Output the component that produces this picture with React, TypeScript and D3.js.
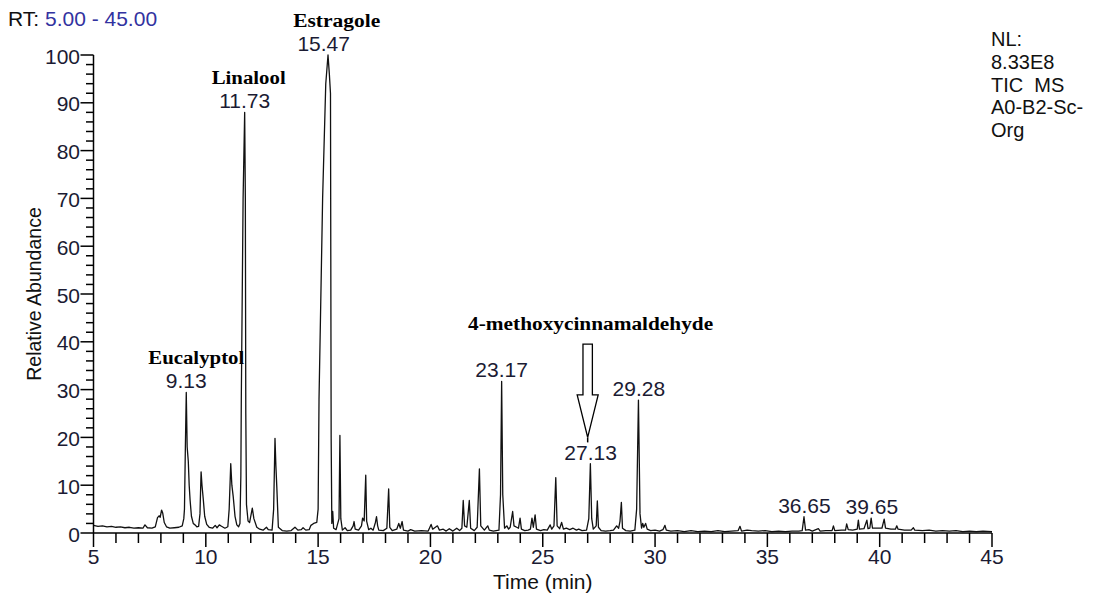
import * as d3 from "d3";

// TIC trace: [retention time (min), relative abundance (%)]
const tic: [number, number][] = [
  [5.0, 1.6], [5.2, 1.4], [5.4, 1.5], [5.6, 1.3], [5.8, 1.4], [6.0, 1.2], [6.2, 1.3], [6.4, 1.1],
  [6.6, 1.2], [6.8, 1.0], [7.0, 1.1], [7.2, 1.0], [7.29, 1.7], [7.4, 1.1], [7.6, 1.0], [7.75, 1.3],
  [7.85, 3.2], [7.92, 3.6], [7.97, 3.3], [8.03, 4.8], [8.08, 4.2], [8.15, 2.2], [8.25, 1.3], [8.4, 1.0],
  [8.6, 1.1], [8.8, 1.2], [8.95, 1.5], [9.02, 3], [9.05, 5], [9.09, 18], [9.13, 29.4], [9.17, 18],
  [9.22, 15], [9.26, 10], [9.3, 6.9], [9.36, 3.5], [9.44, 2], [9.52, 1.7], [9.6, 1.3], [9.68, 1.4],
  [9.74, 4], [9.79, 12.8], [9.83, 10], [9.89, 6.9], [9.95, 3.5], [10.04, 1.8], [10.15, 1.2], [10.3, 1.0],
  [10.42, 1.6], [10.5, 1.1], [10.6, 1.7], [10.7, 1.4], [10.85, 1.0], [10.98, 1.3], [11.04, 5], [11.11, 14.5],
  [11.16, 10], [11.22, 7.6], [11.3, 3.5], [11.38, 1.7], [11.46, 1.3], [11.52, 2], [11.56, 12], [11.58, 28],
  [11.66, 70], [11.73, 88], [11.76, 70], [11.78, 25], [11.81, 6], [11.88, 2.5], [11.95, 2.2], [12.07, 5.2],
  [12.14, 3], [12.27, 1.2], [12.4, 0.8], [12.55, 0.6], [12.7, 1.2], [12.78, 0.7], [12.95, 0.6], [13.02, 5],
  [13.08, 19.8], [13.12, 14], [13.16, 9.7], [13.23, 1.2], [13.4, 0.5], [13.6, 0.4], [13.8, 0.5], [13.97, 1.2],
  [14.1, 0.6], [14.25, 0.7], [14.33, 1.1], [14.45, 0.6], [14.6, 0.7], [14.68, 1.6], [14.8, 2.0], [14.94, 2.2],
  [15.0, 5], [15.04, 28], [15.2, 70], [15.34, 94], [15.44, 100], [15.5, 96], [15.55, 92], [15.58, 20],
  [15.61, 2], [15.65, 4.5], [15.69, 1.0], [15.8, 0.7], [15.93, 3], [15.97, 20.4], [16.01, 3], [16.08, 0.6],
  [16.2, 1.1], [16.3, 0.5], [16.45, 0.6], [16.56, 1.5], [16.6, 2.4], [16.65, 0.8], [16.8, 0.6], [16.93, 1.5],
  [16.98, 3.1], [17.05, 2.5], [17.12, 12.1], [17.16, 2.5], [17.25, 0.7], [17.35, 1.0], [17.45, 0.6], [17.55, 2.2],
  [17.6, 3.4], [17.65, 1.5], [17.7, 0.6], [17.9, 0.5], [18.06, 1.0], [18.14, 9.2], [18.19, 1.2], [18.3, 0.5],
  [18.5, 0.8], [18.59, 2.0], [18.66, 1.0], [18.74, 2.4], [18.8, 0.6], [19.0, 0.4], [19.12, 0.7], [19.3, 0.4],
  [19.6, 0.5], [19.9, 0.4], [20.03, 1.8], [20.1, 0.8], [20.31, 1.5], [20.4, 0.6], [20.57, 0.8], [20.7, 0.4],
  [20.84, 0.9], [21.0, 0.4], [21.17, 1.0], [21.3, 0.5], [21.4, 1.0], [21.46, 6.8], [21.52, 1.5], [21.62, 1.2],
  [21.73, 6.8], [21.79, 1.0], [21.95, 0.5], [22.08, 1.2], [22.18, 13.4], [22.24, 1.5], [22.4, 0.6], [22.55, 1.5],
  [22.62, 0.6], [22.8, 0.4], [23.05, 0.6], [23.12, 8], [23.17, 31.7], [23.22, 8], [23.3, 1.0], [23.4, 1.5],
  [23.48, 0.8], [23.55, 1.2], [23.66, 4.5], [23.72, 1.5], [23.84, 1.2], [23.92, 1.0], [23.99, 3.1], [24.05, 0.8],
  [24.2, 0.5], [24.35, 0.6], [24.45, 0.8], [24.52, 3.1], [24.58, 1.2], [24.66, 3.8], [24.72, 0.8], [24.9, 0.5],
  [25.05, 0.7], [25.2, 0.6], [25.33, 1.7], [25.4, 0.8], [25.5, 1.5], [25.58, 11.6], [25.64, 1.5], [25.75, 0.9],
  [25.84, 2.2], [25.92, 0.8], [26.05, 1.0], [26.2, 0.7], [26.35, 1.0], [26.5, 0.6], [26.6, 0.8], [26.75, 0.5],
  [26.95, 0.6], [27.05, 3], [27.12, 14.5], [27.18, 3], [27.25, 0.8], [27.38, 1.5], [27.43, 6.7], [27.48, 1.2],
  [27.6, 0.5], [27.8, 0.4], [28.0, 0.5], [28.15, 0.6], [28.29, 1.5], [28.38, 1.0], [28.44, 2.5], [28.5, 6.4],
  [28.55, 1.0], [28.7, 0.5], [28.9, 0.4], [29.1, 0.6], [29.18, 5], [29.26, 27.8], [29.33, 4], [29.4, 1.0],
  [29.45, 2.0], [29.5, 1.2], [29.58, 2.0], [29.65, 0.8], [29.8, 0.5], [30.0, 0.6], [30.2, 0.4], [30.35, 0.7],
  [30.44, 1.6], [30.5, 0.6], [30.7, 0.4], [31.0, 0.5], [31.3, 0.3], [31.6, 0.5], [31.9, 0.3], [32.2, 0.4],
  [32.5, 0.3], [32.8, 0.5], [33.1, 0.3], [33.4, 0.4], [33.7, 0.5], [33.78, 1.4], [33.85, 0.4], [34.1, 0.6],
  [34.3, 0.5], [34.6, 0.4], [34.9, 0.5], [35.2, 0.3], [35.5, 0.4], [35.8, 0.3], [36.1, 0.4], [36.4, 0.4],
  [36.55, 0.5], [36.63, 3.4], [36.7, 0.6], [36.85, 0.7], [37.0, 0.4], [37.27, 0.9], [37.35, 0.4], [37.6, 0.5],
  [37.88, 0.5], [37.94, 1.5], [38.0, 0.5], [38.3, 0.6], [38.48, 0.6], [38.53, 1.9], [38.6, 0.7], [38.8, 0.6],
  [39.0, 0.8], [39.05, 2.7], [39.1, 0.8], [39.3, 0.9], [39.43, 2.7], [39.48, 0.9], [39.56, 1.0], [39.62, 3.1],
  [39.68, 1.0], [39.9, 1.0], [40.1, 1.0], [40.2, 2.9], [40.26, 1.0], [40.5, 0.8], [40.7, 0.8], [40.76, 1.5],
  [40.82, 0.8], [41.1, 0.6], [41.4, 0.6], [41.5, 1.1], [41.56, 0.6], [41.9, 0.5], [42.2, 0.6], [42.5, 0.4],
  [42.8, 0.5], [43.1, 0.4], [43.4, 0.5], [43.7, 0.3], [44.0, 0.4], [44.3, 0.3], [44.6, 0.4], [45.0, 0.3],
];

// labelled peaks: retention time and apex height
const peakRT = [9.13, 11.73, 15.47, 23.17, 27.13, 29.28, 36.65, 39.65];
const peakApex = [29.4, 88, 100, 31.7, 14.5, 27.8, 3.4, 3.1];

const compoundNames = ["Eucalyptol", "Linalool", "Estragole", "4-methoxycinnamaldehyde"];
const compoundRT = [9.13, 11.73, 15.47, 27.13];

const infoLines = ["NL:", "8.33E8", "TIC  MS", "A0-B2-Sc-", "Org"];
const rtRange = [5, 45];
const yTicks = [0, 10, 20, 30, 40, 50, 60, 70, 80, 90, 100];
const xTicks = [5, 10, 15, 20, 25, 30, 35, 40, 45];

// arrow for 4-methoxycinnamaldehyde (time, tip / head / top abundance)
const arrowRT = 27.0;
const arrowLevels = [20, 28.9, 39.5];

const W = 1093;
const H = 594;
const SANS = "'Liberation Sans', Arial, sans-serif";
const SERIF = "'Liberation Serif', 'Times New Roman', serif";
const NUM = "#1b1b33";

// layout nudges for the text (pixels)
const labelNudge: Record<string, number> = { "15.47": -5 };
const nameNudge: Record<string, number> = { Eucalyptol: 10, Linalool: 4, Estragole: 8 };
const nameWidth: Record<string, number> = { Eucalyptol: 96, Linalool: 74, Estragole: 87, "4-methoxycinnamaldehyde": 245 };

export default function App() {
  const x = d3.scaleLinear().domain(rtRange).range([93.5, 992]);
  const y = d3.scaleLinear().domain([0, 100]).range([533, 55]);

  const line = d3.line<[number, number]>()
    .x(d => x(d[0]))
    .y(d => y(d[1]));

  const xMinor = d3.range(rtRange[0], rtRange[1] + 1, 1).filter(t => t % 5 !== 0);
  const yMinor = d3.range(0, 101, 2).filter(v => v % 10 !== 0);

  const ax = x(arrowRT);
  const [tipV, headV, topV] = arrowLevels;
  const arrowPath = [
    [ax - 4.7, y(topV)], [ax + 4.7, y(topV)], [ax + 4.7, y(headV)], [ax + 10.5, y(headV)],
    [ax, y(tipV)], [ax - 10.5, y(headV)], [ax - 4.7, y(headV)],
  ].map(p => p.join(",")).join(" ");

  return (
    <svg width={W} height={H} style={{ position: "absolute", left: 0, top: 0, background: "#fff" }}>
      <rect width={W} height={H} fill="#fff" />

      {/* header */}
      <text x={8} y={26} fontFamily={SANS} fontSize={21} fill="#111">
        RT: <tspan fill="#3232a0">{`${rtRange[0].toFixed(2)} - ${rtRange[1].toFixed(2)}`}</tspan>
      </text>
      <g fontFamily={SANS} fontSize={20} fill="#111">
        {infoLines.map((s, i) => (
          <text key={s} x={991} y={46 + i * 22.8} style={{ whiteSpace: "pre" }}>{s}</text>
        ))}
      </g>

      {/* trace */}
      <path d={line(tic) ?? ""} fill="none" stroke="#111" strokeWidth={1.3} strokeLinejoin="round" />

      {/* y axis */}
      <g stroke="#000" strokeWidth={1.5}>
        <line x1={x(rtRange[0])} x2={x(rtRange[0])} y1={y(0)} y2={y(100)} />
        {yTicks.map(v => <line key={v} x1={80.5} x2={x(rtRange[0])} y1={y(v)} y2={y(v)} />)}
        {yMinor.map(v => <line key={v} x1={86} x2={x(rtRange[0])} y1={y(v)} y2={y(v)} />)}
      </g>
      <g fontFamily={SANS} fontSize={21} fill={NUM} textAnchor="end">
        {yTicks.map(v => <text key={v} x={80} y={y(v) + 8.5}>{v}</text>)}
      </g>
      <text transform={`translate(41,${(y(0) + y(100)) / 2}) rotate(-90)`} textAnchor="middle"
        fontFamily={SANS} fontSize={19.5} fill="#111">Relative Abundance</text>

      {/* x axis */}
      <g stroke="#000" strokeWidth={1.5}>
        <line x1={x(rtRange[0])} x2={x(rtRange[1])} y1={y(0)} y2={y(0)} />
        {xTicks.map(t => <line key={t} x1={x(t)} x2={x(t)} y1={y(0)} y2={y(0) + 14} />)}
        {xMinor.map(t => <line key={t} x1={x(t)} x2={x(t)} y1={y(0)} y2={y(0) + 10} />)}
      </g>
      <g fontFamily={SANS} fontSize={21} fill={NUM} textAnchor="middle">
        {xTicks.map(t => <text key={t} x={x(t)} y={564}>{t}</text>)}
      </g>
      <text x={(x(rtRange[0]) + x(rtRange[1])) / 2} y={589} textAnchor="middle"
        fontFamily={SANS} fontSize={21} fill="#111">Time (min)</text>

      {/* peak labels */}
      <g fontFamily={SANS} fontSize={21} fill={NUM} textAnchor="middle">
        {peakRT.map((rt, i) => {
          const s = rt.toFixed(2);
          return <text key={s} x={x(rt) + (labelNudge[s] ?? 0)} y={y(peakApex[i]) - 4}>{s}</text>;
        })}
      </g>

      {/* compound names */}
      <g fontFamily={SERIF} fontSize={18} fontWeight="bold" fill="#000" textAnchor="middle">
        {compoundNames.map((n, i) => {
          const rt = compoundRT[i];
          const k = peakRT.indexOf(rt);
          const yy = n === "4-methoxycinnamaldehyde" ? y(topV) - 14 : y(peakApex[k]) - 28;
          return (
            <text key={n} x={x(rt) + (nameNudge[n] ?? 0)} y={yy}
              textLength={nameWidth[n]} lengthAdjust="spacingAndGlyphs">{n}</text>
          );
        })}
      </g>

      {/* arrow */}
      <polygon points={arrowPath} fill="#fff" stroke="#000" strokeWidth={1.3} strokeLinejoin="miter" />
      <line x1={ax} x2={ax} y1={y(tipV)} y2={y(tipV) + 5} stroke="#000" strokeWidth={1.5} />
    </svg>
  );
}
